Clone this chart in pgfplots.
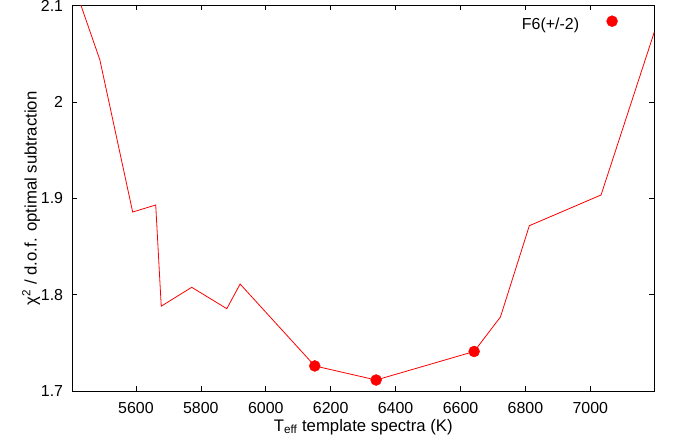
\documentclass[border=0pt]{standalone}
\usepackage{pgfplots}
\pgfplotsset{compat=1.18}
\usepackage{fontspec}
\setmainfont{Liberation Sans}
\begin{document}
\begin{tikzpicture}
\begin{axis}[
  scale only axis,
  width=582bp, height=385.5bp,
  xmin=5404, xmax=7197,
  ymin=1.7, ymax=2.1,
  xtick={5600,5800,6000,6200,6400,6600,6800,7000},
  ytick={1.7,1.8,1.9,2,2.1},
  scaled x ticks=false, scaled y ticks=false,
  /pgf/number format/1000 sep={},
  /pgf/number format/assume math mode=true,
  major tick length=5bp,
  tick style={black, line width=0.6bp},
  axis line style={black, line width=1bp},
  every tick label/.append style={font=\fontsize{16}{18}\selectfont},
  xticklabel style={anchor=north, inner sep=0pt, yshift=-11.5bp},
  yticklabel style={anchor=east, inner sep=0pt, xshift=-9bp},
  xlabel={T\textsubscript{eff} template spectra (K)},
  ylabel={χ\textsuperscript{2} / d.o.f. optimal subtraction},
  label style={font=\fontsize{16.8}{19}\selectfont},
  xlabel style={at={(axis description cs:0.5,-0.1038)}, anchor=base, inner sep=0pt},
  ylabel style={at={(axis description cs:-0.0612,0.5)}, anchor=base, inner sep=0pt},
  legend plot pos=right,
  legend cell align=right,
  legend style={draw=none, fill=none, inner sep=0pt, outer sep=0pt,
    at={(axis description cs:1,1)}, anchor=north east, xshift=-36.5bp, yshift=-10bp,
    nodes={inner sep=0pt, font=\fontsize{16}{18}\selectfont}},
  legend image code/.code={\path[draw=none, fill=none] (0bp,-4bp) rectangle (38.5bp,4bp);
    \fill[red] (33bp,0.35em) circle (5.5bp);},
]
\addplot[red, line width=0.8bp, forget plot] coordinates {
(5404,2.126) (5489,2.0435) (5590,1.8857) (5661,1.893) (5678,1.788)
(5772,1.8076) (5880,1.7854) (5921,1.811) (6151,1.726) (6340,1.7114)
(6642,1.741) (6723,1.7768) (6812,1.8715) (7033,1.9034) (7197,2.0725)
};
\addplot[only marks, mark=*, mark size=5.5bp, color=red, mark options={fill=red, draw=red}] coordinates {
(6151,1.726) (6340,1.7114) (6642,1.741)
};
\addlegendentry{F6(+/-2)}
\end{axis}
\pgfresetboundingbox
\path[use as bounding box] (-72.3bp,-53bp) rectangle (600.7bp,391bp);
\end{tikzpicture}
\end{document}
